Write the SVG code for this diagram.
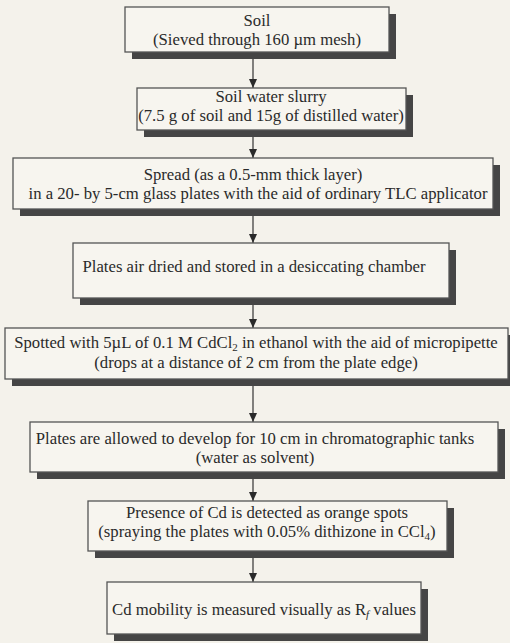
<svg xmlns="http://www.w3.org/2000/svg" width="510" height="643" viewBox="0 0 510 643">
<style>
.bg{fill:#f4f2eb}
.box{fill:#f7f5ef;stroke:#555;stroke-width:1.3}
.sh{fill:#454545}
.t{font-family:"Liberation Serif","Times New Roman",serif;font-size:16.7px;fill:#2a2a2a;text-anchor:middle}
.sub{font-size:11px}
.con{stroke:#333;stroke-width:1.2;fill:none;marker-end:url(#ah)}
</style>
<defs>
<marker id="ah" markerWidth="9" markerHeight="8" refX="9" refY="4" orient="auto" markerUnits="userSpaceOnUse" viewBox="0 0 9 8">
<path d="M0,0 L9,4 L0,8 Z" fill="#2a2a2a"/>
</marker>
</defs>
<rect class="bg" x="0" y="0" width="510" height="643"/>
<g id="connectors">
<line class="con" x1="253" y1="59" x2="253" y2="88"/>
<line class="con" x1="253" y1="137" x2="253" y2="158"/>
<line class="con" x1="253" y1="216" x2="253" y2="243"/>
<line class="con" x1="253" y1="305" x2="253" y2="328"/>
<line class="con" x1="253" y1="386" x2="253" y2="422"/>
<line class="con" x1="253" y1="479" x2="253" y2="501"/>
<line class="con" x1="253" y1="558" x2="253" y2="582"/>
</g>
<g id="n1">
<rect class="sh" x="132" y="14" width="264" height="45"/>
<rect class="box" x="125" y="7" width="264" height="45"/>
<text class="t" x="257" y="26">Soil</text>
<text class="t" x="257" y="45">(Sieved through 160 µm mesh)</text>
</g>
<g id="n2">
<rect class="sh" x="144" y="95" width="269" height="42"/>
<rect class="box" x="137" y="88" width="269" height="42"/>
<text class="t" x="271" y="102">Soil water slurry</text>
<text class="t" x="271" y="121">(7.5 g of soil and 15g of distilled water)</text>
</g>
<g id="n3">
<rect class="sh" x="20" y="165" width="480" height="51"/>
<rect class="box" x="13" y="158" width="480" height="51"/>
<text class="t" x="253" y="180">Spread (as a 0.5-mm thick layer)</text>
<text class="t" x="258" y="199">in a 20- by 5-cm glass plates with the aid of ordinary TLC applicator</text>
</g>
<g id="n4">
<rect class="sh" x="80" y="250" width="376" height="55"/>
<rect class="box" x="73" y="243" width="376" height="55"/>
<text class="t" x="254" y="272">Plates air dried and stored in a desiccating chamber</text>
</g>
<g id="n5">
<rect class="sh" x="12" y="335" width="503" height="51"/>
<rect class="box" x="5" y="328" width="503" height="51"/>
<text class="t" x="256" y="348">Spotted with 5µL of  0.1 M CdCl<tspan class="sub" dy="3">2</tspan><tspan dy="-3"> in ethanol with the aid of micropipette</tspan></text>
<text class="t" x="256" y="368">(drops at a distance of 2 cm from the plate edge)</text>
</g>
<g id="n6">
<rect class="sh" x="37" y="429" width="468" height="50"/>
<rect class="box" x="30" y="422" width="468" height="50"/>
<text class="t" x="255" y="444">Plates are allowed to develop for 10 cm in chromatographic tanks</text>
<text class="t" x="255" y="463">(water as solvent)</text>
</g>
<g id="n7">
<rect class="sh" x="95" y="508" width="359" height="50"/>
<rect class="box" x="88" y="501" width="359" height="50"/>
<text class="t" x="267" y="518">Presence of Cd is detected as orange spots</text>
<text class="t" x="267" y="537">(spraying the plates with 0.05% dithizone in CCl<tspan class="sub" dy="3">4</tspan><tspan dy="-3">)</tspan></text>
</g>
<g id="n8">
<rect class="sh" x="114" y="589" width="314" height="52"/>
<rect class="box" x="107" y="582" width="314" height="52"/>
<text class="t" x="264" y="615">Cd mobility is measured visually as R<tspan class="sub" font-style="italic" dy="3">f</tspan><tspan dy="-3"> values</tspan></text>
</g>
</svg>
